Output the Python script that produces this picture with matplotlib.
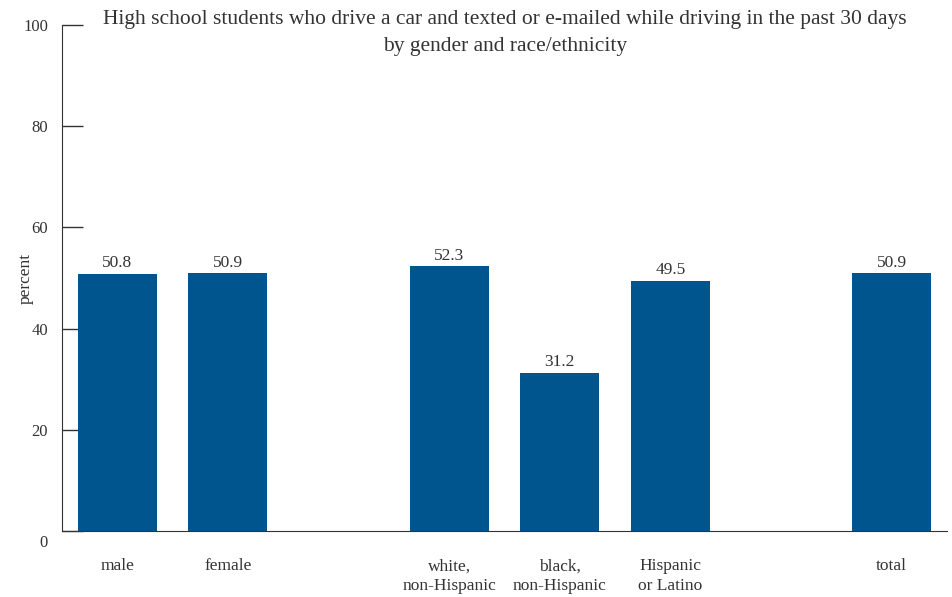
import matplotlib.pyplot as plt
import matplotlib.transforms as mtransforms

plt.rcParams['font.family'] = ['Liberation Serif', 'DejaVu Serif']

categories = ["male", "female", "white,\nnon-Hispanic", "black,\nnon-Hispanic",
              "Hispanic\nor Latino", "total"]
positions = [0, 1, 3, 4, 5, 7]
values = [50.8, 50.9, 52.3, 31.2, 49.5, 50.9]
yticks = [0, 20, 40, 60, 80, 100]

bar_color = '#00558f'
text_color = '#333333'

fig = plt.figure(figsize=(9.52, 5.97), dpi=100)
ax = fig.add_axes([62 / 952, 66 / 597, 885 / 952, 506 / 597])

bars = ax.bar(positions, values, width=0.714, color=bar_color, zorder=2)
for x, v in zip(positions, values):
    ax.annotate(f"{v:.1f}", (x, v), xytext=(0, 2), textcoords='offset points',
                ha='center', va='bottom', fontsize=12.5, color=text_color)

ax.set_xlim(-0.5, 7.5)
ax.set_ylim(0, 100)
ax.set_yticks(yticks)
ax.set_yticklabels([str(t) for t in yticks])
ax.tick_params(axis='y', direction='in', length=15, width=1, pad=10,
               labelsize=12, colors=text_color)
ax.set_xticks([])

for x, lab in zip(positions, categories):
    ax.text(x, -5.4, lab, ha='center', va='top', fontsize=12.5,
            color=text_color, linespacing=1.3)

# the "0" label sits a little below the baseline
lbl0 = ax.get_yticklabels()[0]
lbl0.set_transform(lbl0.get_transform() +
                   mtransforms.ScaledTranslation(0, -7 / 72, fig.dpi_scale_trans))

for side in ['top', 'right']:
    ax.spines[side].set_visible(False)
ax.spines['left'].set_color(text_color)
ax.spines['bottom'].set_color(text_color)

ax.set_ylabel("percent", fontsize=12.5, color=text_color)
ax.yaxis.set_label_coords(-0.032, 0.5)

fig.text(505 / 952, 1 - 33 / 597,
         "High school students who drive a car and texted or e-mailed while driving in the past 30 days\nby gender and race/ethnicity",
         ha='center', va='center', fontsize=15.5, color=text_color, linespacing=1.6)

fig.savefig("out.png", dpi=100, facecolor='white')
